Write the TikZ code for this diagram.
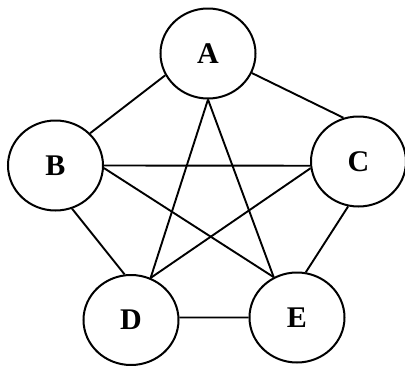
\documentclass[tikz,border=0pt]{standalone}
\usepackage{fontspec}
\setmainfont{Liberation Serif}
\usetikzlibrary{shapes.geometric}
\begin{document}
\begin{tikzpicture}[x=1pt,y=-1pt,
  vert/.style={draw, ellipse, line width=2pt, inner sep=0pt,
    minimum width=95pt, minimum height=90pt,
    font=\fontsize{30}{30}\selectfont\bfseries},
  edge/.style={line width=1.9pt}]
\useasboundingbox (0,0) rectangle (405,365);
\node[vert] (A) at (208,53.5) {A};
\node[vert] (B) at (55.5,165.5) {B};
\node[vert] (C) at (358.5,161.5) {C};
\node[vert] (D) at (131,320) {D};
\node[vert] (E) at (297,317.5) {E};
\draw[edge] (A.207.6) -- (B.43.3);
\draw[edge] (A.-24.5) -- (C.109.6);
\draw[edge] (A.-90) -- (D.65.8);
\draw[edge] (A.-90) -- (E.120.6);
\draw[edge] (B.0) -- (C.185.6);
\draw[edge] (B.-69) -- (D.98);
\draw[edge] (B.-3) -- (E.120.6);
\draw[edge] (C.188) -- (D.65.8);
\draw[edge] (C.257) -- (E.79.6);
\draw[edge] (D.3) -- (E.180);
\end{tikzpicture}
\end{document}
